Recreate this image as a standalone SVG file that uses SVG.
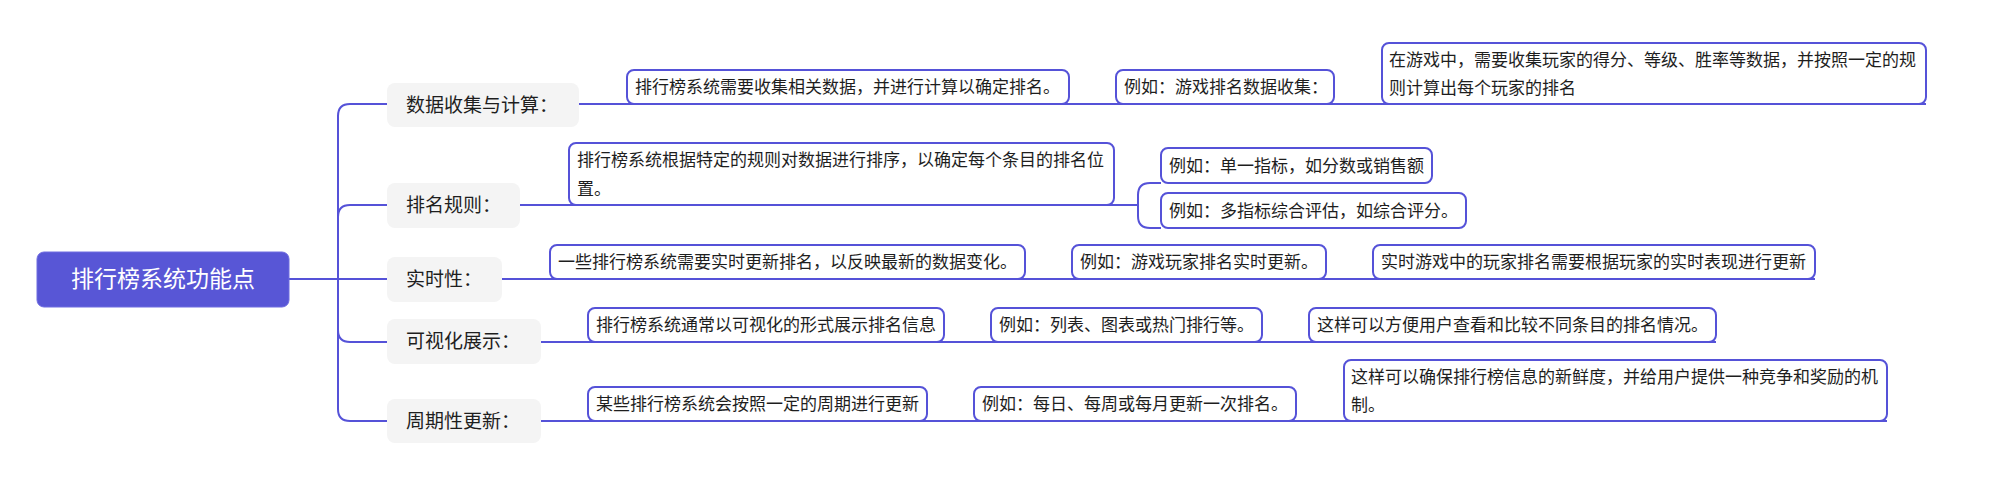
<svg xmlns="http://www.w3.org/2000/svg" width="1990" height="499" viewBox="0 0 1990 499">
<style>
text{font-family:"Noto Sans CJK SC","Noto Sans",sans-serif;fill:#1e1e1e}
.root rect{fill:#5856d6;stroke:#6f6ce0;stroke-width:1}
.root text{fill:#ffffff;font-size:23px;text-anchor:middle}
.br rect{fill:#f4f4f4}
.br text{font-size:19px}
.lf rect{fill:#ffffff;stroke:#5552d8;stroke-width:2}
.lf text{font-size:17px}
.cn path{fill:none;stroke:#5552d8;stroke-width:2}
</style>
<rect width="1990" height="499" fill="#ffffff"/>
<g class="cn" id="connectors">
<path d="M289 279 H387"/>
<path d="M338 279 V116 Q338 104 350 104 H387"/>
<path d="M338 279 V217 Q338 205 350 205 H387"/>
<path d="M338 279 V330 Q338 342 350 342 H387"/>
<path d="M338 279 V409 Q338 421 350 421 H387"/>
<path d="M579 104 H1926"/>
<path d="M520 205 H1138"/>
<path d="M1161 183 H1150 Q1138 183 1138 195 V216 Q1138 228 1150 228 H1161"/>
<path d="M502 279 H1815"/>
<path d="M541 342 H1716"/>
<path d="M541 421 H1887"/>
</g>
<g class="root" id="root"><rect x="37" y="252" width="252" height="55" rx="7"/><text x="163" y="287">排行榜系统功能点</text></g>
<g class="br" id="b1"><rect x="387" y="83" width="192" height="44" rx="8"/><text x="406" y="112">数据收集与计算：</text></g>
<g class="br" id="b2"><rect x="387" y="183" width="133" height="45" rx="8"/><text x="406" y="212">排名规则：</text></g>
<g class="br" id="b3"><rect x="387" y="257" width="115" height="45" rx="8"/><text x="406" y="286">实时性：</text></g>
<g class="br" id="b4"><rect x="387" y="319" width="154" height="45" rx="8"/><text x="406" y="348">可视化展示：</text></g>
<g class="br" id="b5"><rect x="387" y="399" width="154" height="44" rx="8"/><text x="406" y="428">周期性更新：</text></g>
<g class="lf" id="n1a"><rect x="627" y="70" width="442" height="34" rx="7"/><text x="635" y="93">排行榜系统需要收集相关数据，并进行计算以确定排名。</text></g>
<g class="lf" id="n1b"><rect x="1116" y="70" width="218" height="34" rx="7"/><text x="1124" y="93">例如：游戏排名数据收集：</text></g>
<g class="lf" id="n1c"><rect x="1382" y="43" width="544" height="61" rx="7"/><text x="1389" y="66">在游戏中，需要收集玩家的得分、等级、胜率等数据，并按照一定的规</text><text x="1389" y="94">则计算出每个玩家的排名</text></g>
<g class="lf" id="n2a"><rect x="569" y="143" width="545" height="62" rx="7"/><text x="577" y="166">排行榜系统根据特定的规则对数据进行排序，以确定每个条目的排名位</text><text x="577" y="195">置。</text></g>
<g class="lf" id="n2b"><rect x="1161" y="148" width="271" height="35" rx="7"/><text x="1169" y="172">例如：单一指标，如分数或销售额</text></g>
<g class="lf" id="n2c"><rect x="1161" y="193" width="305" height="35" rx="7"/><text x="1169" y="217">例如：多指标综合评估，如综合评分。</text></g>
<g class="lf" id="n3a"><rect x="550" y="245" width="475" height="34" rx="7"/><text x="558" y="268">一些排行榜系统需要实时更新排名，以反映最新的数据变化。</text></g>
<g class="lf" id="n3b"><rect x="1072" y="245" width="254" height="34" rx="7"/><text x="1080" y="268">例如：游戏玩家排名实时更新。</text></g>
<g class="lf" id="n3c"><rect x="1373" y="245" width="442" height="34" rx="7"/><text x="1381" y="268">实时游戏中的玩家排名需要根据玩家的实时表现进行更新</text></g>
<g class="lf" id="n4a"><rect x="588" y="308" width="356" height="34" rx="7"/><text x="596" y="331">排行榜系统通常以可视化的形式展示排名信息</text></g>
<g class="lf" id="n4b"><rect x="991" y="308" width="271" height="34" rx="7"/><text x="999" y="331">例如：列表、图表或热门排行等。</text></g>
<g class="lf" id="n4c"><rect x="1309" y="308" width="407" height="34" rx="7"/><text x="1317" y="331">这样可以方便用户查看和比较不同条目的排名情况。</text></g>
<g class="lf" id="n5a"><rect x="588" y="387" width="339" height="34" rx="7"/><text x="596" y="410">某些排行榜系统会按照一定的周期进行更新</text></g>
<g class="lf" id="n5b"><rect x="974" y="387" width="322" height="34" rx="7"/><text x="982" y="410">例如：每日、每周或每月更新一次排名。</text></g>
<g class="lf" id="n5c"><rect x="1344" y="360" width="543" height="61" rx="7"/><text x="1351" y="383">这样可以确保排行榜信息的新鲜度，并给用户提供一种竞争和奖励的机</text><text x="1351" y="411">制。</text></g>
</svg>
